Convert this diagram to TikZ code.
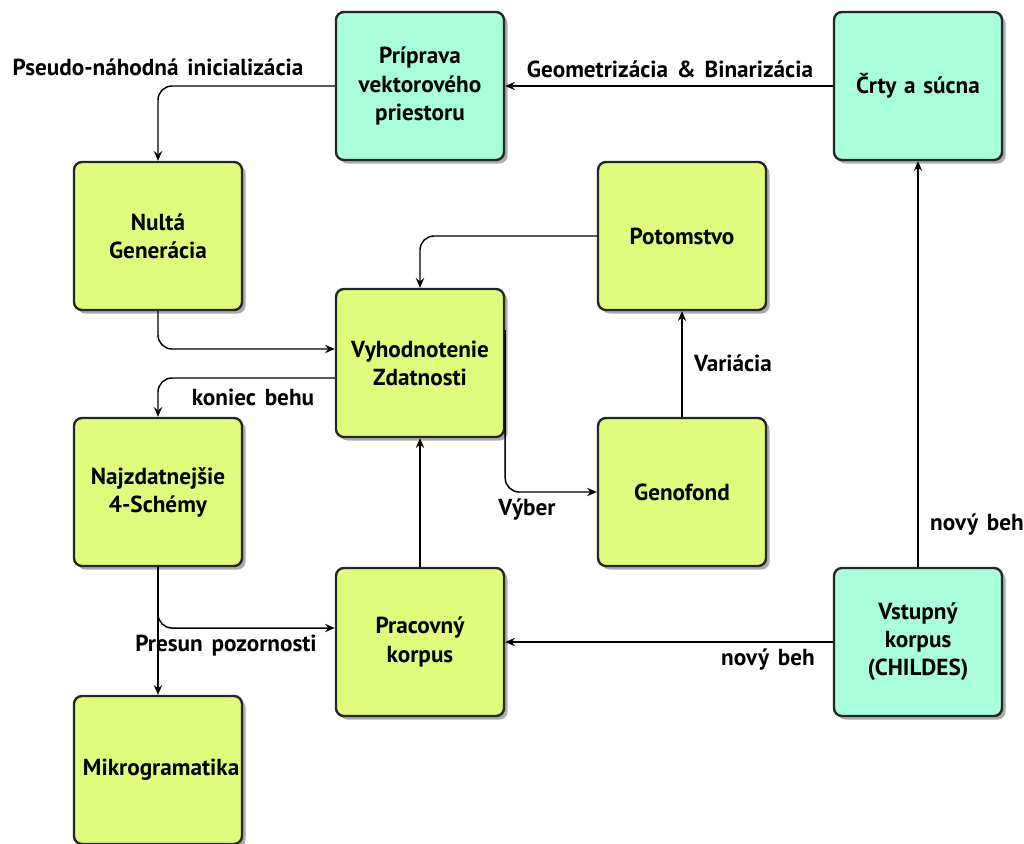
\documentclass[tikz,border=0pt]{standalone}
\usepackage{fontspec}
\setmainfont{PT Sans}[WordSpace=1.5]
\usetikzlibrary{arrows.meta,shadows,calc}
\definecolor{limefill}{HTML}{DFFC7C}
\definecolor{aquafill}{HTML}{A9FEDC}
\begin{document}
\begin{tikzpicture}[x=0.025cm,y=-0.025cm,
 box/.style={draw=black!85,line width=1.7pt,rounded corners=0.2cm,text width=3.75cm,inner sep=0.225cm,minimum height=3.7cm,align=center,font=\bfseries\fontsize{16.5}{20}\selectfont,drop shadow={shadow xshift=2.5pt,shadow yshift=-2.5pt,fill=black!55,opacity=0.6}},
 gbox/.style={box,fill=limefill},
 abox/.style={box,fill=aquafill},
 arr/.style={-{Stealth[length=7pt,width=6pt,inset=2.5pt]},line width=1.05pt,rounded corners=0.35cm},
 lbl/.style={font=\bfseries\fontsize{16.5}{20}\selectfont,inner sep=0pt}]
\useasboundingbox (0,0) rectangle (1024,843);
\node[abox] (prip) at (420,86) {Príprava\\vektorového\\priestoru};
\node[abox] (crty) at (918,86) {Črty a súcna};
\node[gbox] (nulta) at (158,236) {Nultá\\Generácia};
\node[gbox] (potom) at (682,236) {Potomstvo};
\node[gbox] (vyh) at (420,363) {Vyhodnotenie\\Zdatnosti};
\node[gbox] (najz) at (158,492) {Najzdatnejšie\\4-Schémy};
\node[gbox] (geno) at (682,492) {Genofond};
\node[gbox] (prac) at (420,642) {Pracovný\\korpus};
\node[abox] (vstup) at (918,642) {Vstupný\\korpus\\(CHILDES)};
\node[gbox] (mikro) at (158,770) {Mikrogramatika};

\draw[arr] (prip.west) -| (nulta.north);
\draw[arr] (crty.west) -- (prip.east);
\draw[arr] (nulta.south) |- ($(vyh.west)+(0,-14)$);
\draw[arr] ($(vyh.west)+(0,15)$) -| (najz.north);
\draw[arr] (potom.west) -| (vyh.north);
\draw[arr] ($(vyh.east)+(0,-33)$) |- (geno.west);
\draw[arr] (geno.north) -- (potom.south);
\draw[arr] (prac.north) -- (vyh.south);
\draw[arr] (vstup.west) -- (prac.east);
\draw[arr] (vstup.north) -- (crty.south);
\draw[arr] (najz.south) -- (mikro.north);
\draw[arr] (najz.south) |- ($(prac.west)+(0,-14)$);

\node[lbl] (l1) at (158,67) {Pseudo-náhodná inicializácia};
\node[lbl] (l2) at (670,69) {Geometrizácia \& Binarizácia};
\node[lbl] (l3) at (253,397) {koniec behu};
\node[lbl] (l4) at (527,510) {Výber};
\node[lbl] (l5) at (733,363) {Variácia};
\node[lbl] (l6) at (977,525) {nový beh};
\node[lbl] (l7) at (768,660) {nový beh};
\node[lbl] (l8) at (226,646) {Presun pozornosti};
\end{tikzpicture}
\end{document}
